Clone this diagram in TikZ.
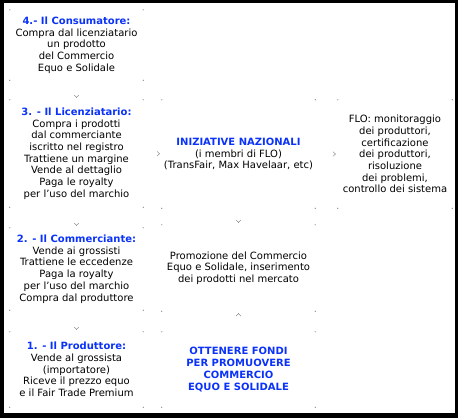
\documentclass[tikz,border=0pt]{standalone}
\usepackage{fontspec}
\setmainfont{DejaVu Sans}
\usetikzlibrary{arrows.meta}
\definecolor{fairblue}{RGB}{10,50,250}
\definecolor{markgray}{RGB}{120,120,120}
\newcommand{\titolo}[1]{\textbf{\color{fairblue}#1}}
\begin{document}
\begin{tikzpicture}[x=1pt,y=-1pt]
	          % frame
	          \fill[black] (0,0) rectangle (458,418);
	          \fill[white] (4,3) rectangle (455,413);
	          \useasboundingbox (0,0) rectangle (458,418);
	          \begin{scope}[every node/.style={inner sep=0pt,align=center,font=\fontsize{10}{11.7}\selectfont}]
	            \node[minimum width=133pt,minimum height=70pt] (cons) at (76.5,45) {\titolo{4.- Il Consumatore:}\\Compra dal licenziatario\\un prodotto\\del Commercio\\Equo e Solidale};
	            \node[minimum width=133pt,minimum height=107pt] (lic) at (76.5,153.5) {\titolo{3. - Il Licenziatario:}\\Compra i prodotti\\dal commerciante\\iscritto nel registro\\Trattiene un margine\\Vende al dettaglio\\Paga le royalty\\per l’uso del marchio};
	            \node[minimum width=133pt,minimum height=82pt] (comm) at (76.5,269) {\titolo{2. - Il Commerciante:}\\Vende ai grossisti\\Trattiene le eccedenze\\Paga la royalty\\per l’uso del marchio\\Compra dal produttore};
	            \node[minimum width=133pt,minimum height=75pt] (prod) at (76.5,369.5) {\titolo{1. - Il Produttore:}\\Vende al grossista\\(importatore)\\Riceve il prezzo equo\\e il Fair Trade Premium};
	            \node[minimum width=153pt,minimum height=108pt] (naz) at (238.5,154) {\titolo{INIZIATIVE NAZIONALI}\\(i membri di FLO)\\(TransFair, Max Havelaar, etc)};
	            \node[minimum width=114pt,minimum height=108pt] (flo) at (395,154) {FLO: monitoraggio\\dei produttori,\\certificazione\\dei produttori,\\risoluzione\\dei problemi,\\controllo dei sistema};
	            \node[minimum width=153pt,minimum height=86pt] (promo) at (238.5,268) {Promozione del Commercio\\Equo e Solidale, inserimento\\dei prodotti nel mercato};
	            \node[minimum width=153pt,minimum height=75pt] (fondi) at (238.5,369.5) {\titolo{OTTENERE FONDI}\\\titolo{PER PROMUOVERE}\\\titolo{COMMERCIO}\\\titolo{EQUO E SOLIDALE}};
	          \end{scope}
	          % corner marks
	          \foreach \n in {cons,lic,comm,prod,naz,flo,promo,fondi}
	            \foreach \a in {north west,north east,south west,south east}
	              \fill[markgray] (\n.\a) circle (0.6pt);
	          \begin{scope}[every edge/.style={draw=white,line width=0.4pt,shorten >=2pt,-{Straight Barb[length=2.5pt,width=4.5pt,color=markgray]}}]
	            \path (cons) edge (lic);
	            \path (lic) edge (comm);
	            \path (comm) edge (prod);
	            \path (lic) edge (naz);
	            \path (naz) edge (flo);
	            \path (naz) edge (promo);
	            \path (fondi) edge (promo);
	          \end{scope}
	        \end{tikzpicture}
\end{document}
